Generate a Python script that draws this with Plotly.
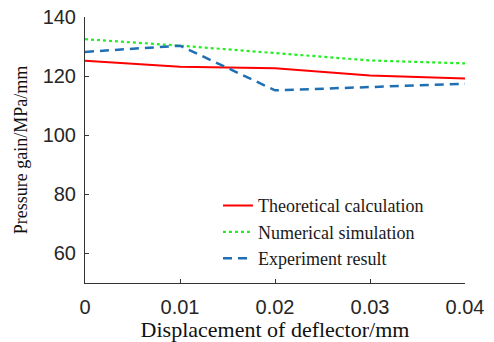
import plotly.graph_objects as go

x_disp = [0, 0.01, 0.02, 0.03, 0.04]
theoretical = [125.2, 123.2, 122.7, 120.2, 119.2]
numerical = [132.5, 130.3, 127.8, 125.3, 124.3]
experiment = [128.2, 130.3, 115.2, 116.3, 117.4]

x_ticks = [0, 0.01, 0.02, 0.03, 0.04]
x_ticklabels = ["0", "0.01", "0.02", "0.03", "0.04"]
y_ticks = [60, 80, 100, 120, 140]

fig = go.Figure()
fig.add_trace(go.Scatter(x=x_disp, y=theoretical, mode="lines", name="Theoretical calculation",
                         line=dict(color="#ff0000", width=2)))
fig.add_trace(go.Scatter(x=x_disp, y=numerical, mode="lines", name="Numerical simulation",
                         line=dict(color="#22ee22", width=2.2, dash="dot")))
fig.add_trace(go.Scatter(x=x_disp, y=experiment, mode="lines", name="Experiment result",
                         line=dict(color="#1f6fb4", width=2.5, dash="9px,6px")))

fig.update_layout(
    width=494, height=342,
    margin=dict(l=85, r=29, t=17, b=59),
    paper_bgcolor="white", plot_bgcolor="white",
    showlegend=True,
    legend=dict(x=0.35, y=0.36, xanchor="left", yanchor="top",
                font=dict(family="Liberation Serif", size=18, color="#1a1a1a"),
                bgcolor="rgba(0,0,0,0)", borderwidth=0, tracegroupgap=0),
    xaxis=dict(range=[0, 0.04], tickvals=x_ticks, ticktext=x_ticklabels, automargin=False,
               showgrid=False, zeroline=False, showline=True, linecolor="#333333", linewidth=1,
               ticks="inside", ticklen=4, tickcolor="#333333", ticklabelstandoff=6,
               tickfont=dict(family="Liberation Sans", size=20, color="#262626"),
               title=dict(text="Displacement of deflector/mm", standoff=11,
                          font=dict(family="Liberation Serif", size=22, color="#111111"))),
    yaxis=dict(range=[50, 140], tickvals=y_ticks, automargin=False,
               showgrid=False, zeroline=False, showline=True, linecolor="#333333", linewidth=1,
               ticks="inside", ticklen=4, tickcolor="#333333", ticklabelstandoff=4,
               tickfont=dict(family="Liberation Sans", size=20, color="#262626"),
               title=dict(text="Pressure gain/MPa/mm", standoff=10,
                          font=dict(family="Liberation Serif", size=18, color="#111111"))),
)

fig.write_html("out.html")
